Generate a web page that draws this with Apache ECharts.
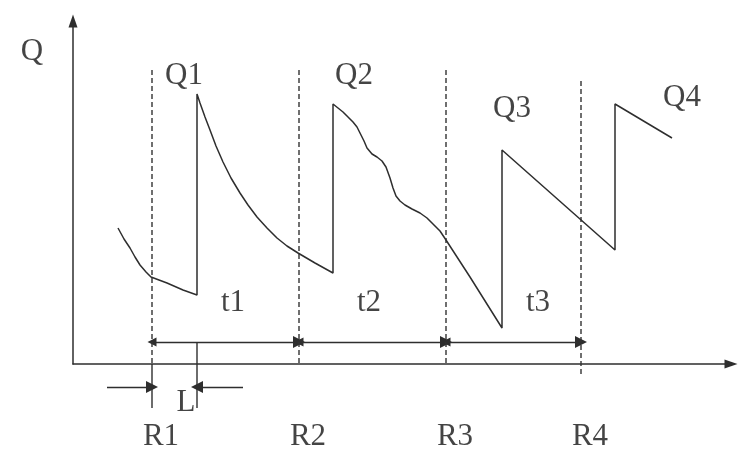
<!DOCTYPE html>
<html>
<head>
<meta charset="utf-8">
<script src="https://cdn.jsdelivr.net/npm/echarts@6/dist/echarts.min.js"></script>
<style>html,body{margin:0;padding:0;background:#fff;}#c{width:755px;height:459px;}</style>
</head>
<body>
<div id="c"></div>
<script>
// Flow curve Q over the R1..R4 intervals (schematic units)
const flowCurve = [
  [45,136],[51,125],[57,116],[62,107],[67,99],[73,92],[78,87],[86,84],[94,81],[110,74],[124,69],
  [124,270],[127,261],[132,247],[137,234],[143,218],[150,202],[158,186],[167,171],[175,159],[184,147],
  [194,136],[204,126],[214,118],[225,111],[242,101],[260,91],
  [260,260],[270,252],[280,242],[284,237],[287,231],[291,223],[294,216],[299,210],[304,207],[309,203],
  [313,197],[317,186],[320,176],[323,168],[327,163],[332,159],[339,155],[347,151],[354,146],[360,140],
  [367,133],[373,124],[397,87],[429,36],
  [429,214],[542,114],
  [542,260],[599,226]
];
// Divider positions R1..R4
const dividerNames = ['R1','R2','R3','R4'];
const dividerX = [79, 226, 373, 508];
const dividerTop = [294, 294, 294, 283];
const dividerBottom = [0, 0, 0, -10];
// R1 and L marker extensions below axis
const r1Ext = [[79,0],[79,-44]];
const lMarker = [[124,22],[124,-44]];
// Interval spans t1..t3
const spanLevel = 22;
const spanStart = [79, 226, 373];
const spanEnd = [226, 373, 508];
// L dimension arrows
const lArrowLevel = -23;
const lArrowLeft = [34, 79];
const lArrowRight = [170, 124];
// Text labels
const labelNames = ['Q','Q1','Q2','Q3','Q4','t1','t2','t3','L','R1','R2','R3','R4'];
const labelX = [-41, 111, 281, 439, 609, 160, 296, 465, 113, 88, 235, 382, 517];
const labelY = [312, 288, 288, 255, 266, 61, 61, 61, -39, -73, -73, -73, -73];

const ink = '#2e2e2e';
const series = [];
series.push({
  type: 'line', data: flowCurve, symbol: 'none', clip: false,
  lineStyle: {color: ink, width: 1.5}, z: 5
});
dividerX.forEach((x, i) => {
  series.push({
    type: 'line', data: [[x, dividerTop[i]], [x, dividerBottom[i]]], symbol: 'none', clip: false,
    lineStyle: {color: '#333', width: 1.4, type: [5, 3]}
  });
});
[r1Ext, lMarker].forEach(d => series.push({
  type: 'line', data: d, symbol: 'none', clip: false, lineStyle: {color: ink, width: 1.4}
}));
series.push({
  type: 'lines', coordinateSystem: 'cartesian2d', clip: false,
  symbol: ['triangle', 'triangle'], symbolSize: [9, 12], symbolOffset: [0, 6],
  lineStyle: {color: ink, width: 1.4, opacity: 1},
  data: spanStart.map((s, i) => ({coords: [[s, spanLevel], [spanEnd[i], spanLevel]]}))
});
series.push({
  type: 'lines', coordinateSystem: 'cartesian2d', clip: false,
  symbol: ['none', 'triangle'], symbolSize: [9, 12], symbolOffset: [0, 6],
  lineStyle: {color: ink, width: 1.4, opacity: 1},
  data: [
    {coords: [[lArrowLeft[0], lArrowLevel], [lArrowLeft[1], lArrowLevel]]},
    {coords: [[lArrowRight[0], lArrowLevel], [lArrowRight[1], lArrowLevel]]}
  ]
});
series.push({
  type: 'scatter', clip: false, symbolSize: 1, itemStyle: {color: 'rgba(0,0,0,0)'},
  data: labelNames.map((n, i) => ({name: n, value: [labelX[i], labelY[i]]})),
  label: {
    show: true, position: 'inside', formatter: '{b}',
    fontFamily: '"Liberation Serif", "Times New Roman", serif', fontSize: 31, color: '#151515'
  },
  silent: true, z: 10
});

const chart = echarts.init(document.getElementById('c'), null, {renderer: 'canvas'});
chart.setOption({
  animation: false,
  backgroundColor: '#fff',
  grid: {left: 73, right: 24, top: 21, bottom: 95, containLabel: false},
  xAxis: {
    type: 'value', min: 0, max: 658,
    axisLine: {show: true, onZero: false, lineStyle: {color: ink, width: 1.5},
      symbol: ['none', 'triangle'], symbolSize: [9, 13]},
    axisTick: {show: false}, axisLabel: {show: false}, splitLine: {show: false}
  },
  yAxis: {
    type: 'value', min: 0, max: 343,
    axisLine: {show: true, onZero: false, lineStyle: {color: ink, width: 1.5},
      symbol: ['none', 'triangle'], symbolSize: [9, 13]},
    axisTick: {show: false}, axisLabel: {show: false}, splitLine: {show: false}
  },
  series: series
});
</script>
</body>
</html>
